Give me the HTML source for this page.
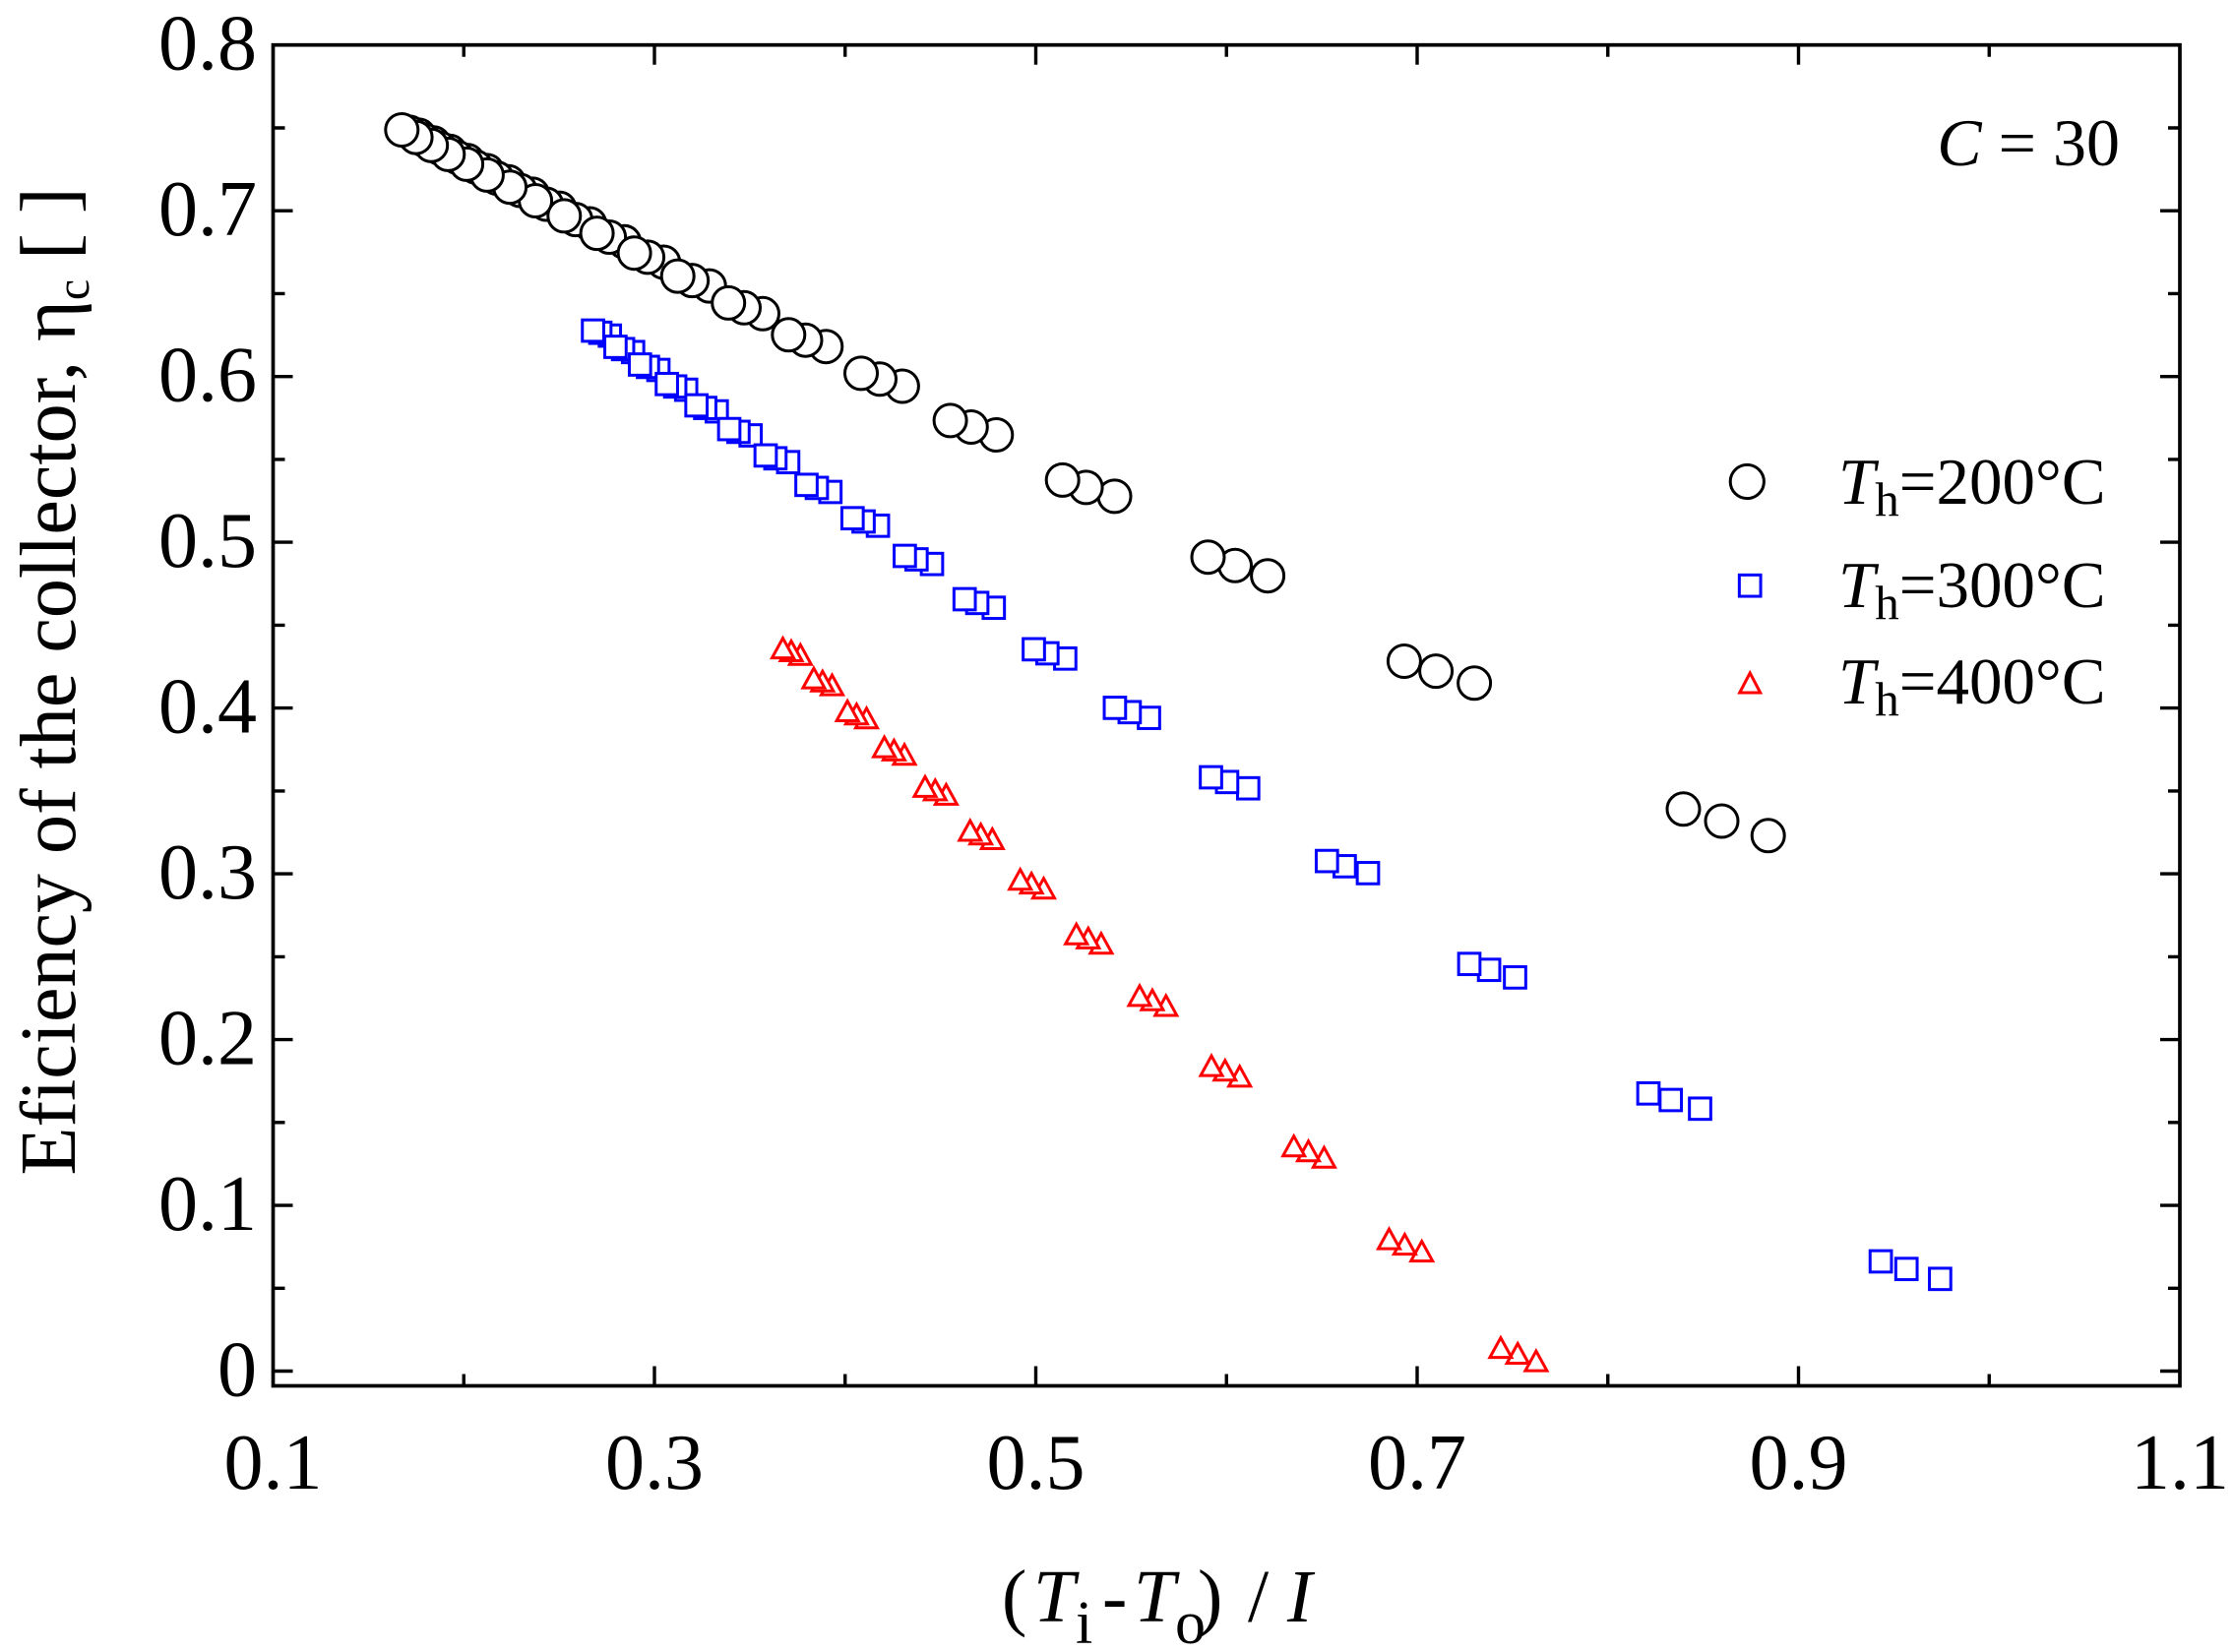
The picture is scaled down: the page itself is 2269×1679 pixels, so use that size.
<!DOCTYPE html>
<html>
<head>
<meta charset="utf-8">
<style>
html,body{margin:0;padding:0;background:#fff;}
svg{display:block;}
</style>
</head>
<body>
<svg width="2269" height="1679" viewBox="0 0 2269 1679" xmlns="http://www.w3.org/2000/svg" xmlns:xlink="http://www.w3.org/1999/xlink" font-family="'Liberation Serif', 'Times New Roman', serif">
<defs>
  <rect id="s" x="-10.85" y="-10.85" width="21.7" height="21.7"/>
  <polygon id="t" points="0,-11 -11,9 11,9"/>
</defs>
<rect x="0" y="0" width="2269" height="1679" fill="#fff"/>

<!-- frame -->
<rect x="277.5" y="45.7" width="1937.5" height="1362.8" fill="none" stroke="#000" stroke-width="3.7"/>

<!-- ticks -->
<path stroke="#000" stroke-width="3.4" fill="none" d="
M277.5 1393.5 h20 M277.5 1225.1 h20 M277.5 1056.6 h20 M277.5 888.1 h20 M277.5 719.6 h20 M277.5 551.1 h20 M277.5 382.7 h20 M277.5 214.2 h20
M277.5 1309.3 h12 M277.5 1140.8 h12 M277.5 972.4 h12 M277.5 803.9 h12 M277.5 635.4 h12 M277.5 466.9 h12 M277.5 298.4 h12 M277.5 130.0 h12
M2215 1393.5 h-20 M2215 1225.1 h-20 M2215 1056.6 h-20 M2215 888.1 h-20 M2215 719.6 h-20 M2215 551.1 h-20 M2215 382.7 h-20 M2215 214.2 h-20
M2215 1309.3 h-12 M2215 1140.8 h-12 M2215 972.4 h-12 M2215 803.9 h-12 M2215 635.4 h-12 M2215 466.9 h-12 M2215 298.4 h-12 M2215 130.0 h-12
M665 1408.5 v-20 M1052.5 1408.5 v-20 M1440 1408.5 v-20 M1827.5 1408.5 v-20
M471.25 1408.5 v-12 M858.75 1408.5 v-12 M1246.25 1408.5 v-12 M1633.75 1408.5 v-12 M2021.25 1408.5 v-12
M665 45.7 v20 M1052.5 45.7 v20 M1440 45.7 v20 M1827.5 45.7 v20
M471.25 45.7 v12 M858.75 45.7 v12 M1246.25 45.7 v12 M1633.75 45.7 v12 M2021.25 45.7 v12
"/>

<!-- y tick labels -->
<g font-size="80" text-anchor="end" fill="#000">
  <text x="261" y="1418.5">0</text>
  <text x="261" y="1250.1">0.1</text>
  <text x="261" y="1081.6">0.2</text>
  <text x="261" y="913.1">0.3</text>
  <text x="261" y="744.6">0.4</text>
  <text x="261" y="576.1">0.5</text>
  <text x="261" y="407.7">0.6</text>
  <text x="261" y="239.2">0.7</text>
  <text x="261" y="70.7">0.8</text>
</g>

<!-- x tick labels -->
<g font-size="80" text-anchor="middle" fill="#000">
  <text x="277.5" y="1513">0.1</text>
  <text x="665" y="1513">0.3</text>
  <text x="1052.5" y="1513">0.5</text>
  <text x="1440" y="1513">0.7</text>
  <text x="1827.5" y="1513">0.9</text>
  <text x="2215" y="1513">1.1</text>
</g>

<!-- x axis title -->
<g fill="#000">
  <text x="1018" y="1648" font-size="76">(</text>
  <text x="1050" y="1648" font-size="76" font-style="italic">T</text>
  <text x="1093" y="1670" font-size="62">i</text>
  <text x="1120" y="1648" font-size="76">-</text>
  <text x="1152" y="1648" font-size="76" font-style="italic">T</text>
  <text x="1194" y="1670" font-size="62">o</text>
  <text x="1217" y="1648" font-size="76">)</text>
  <text x="1268" y="1648" font-size="76">/</text>
  <text x="1308" y="1648" font-size="76" font-style="italic">I</text>
</g>

<!-- y axis title -->
<text transform="translate(76,692.5) rotate(-90)" text-anchor="middle" font-size="80" fill="#000">Eficiency of the collector, η<tspan font-size="48" dy="14">c</tspan><tspan dy="-14"> [ ]</tspan></text>

<!-- C = 30 -->
<text x="2154" y="168" font-size="68" text-anchor="end" fill="#000"><tspan font-style="italic">C</tspan> = 30</text>

<!-- legend -->
<circle cx="1775.3" cy="489.5" r="17.1" fill="#fff" stroke="#000" stroke-width="3"/>
<rect x="1767.35" y="584.35" width="21.7" height="21.7" fill="#fff" stroke="#0000ff" stroke-width="3"/>
<polygon points="1778.2,684 1767.7,704 1788.7,704" fill="#fff" stroke="#ff0000" stroke-width="3"/>
<g font-size="67" fill="#000">
  <text x="1868" y="512"><tspan font-style="italic">T</tspan><tspan font-size="49" dy="12">h</tspan><tspan dy="-12">=200°C</tspan></text>
  <text x="1868" y="617"><tspan font-style="italic">T</tspan><tspan font-size="49" dy="12">h</tspan><tspan dy="-12">=300°C</tspan></text>
  <text x="1868" y="715"><tspan font-style="italic">T</tspan><tspan font-size="49" dy="12">h</tspan><tspan dy="-12">=400°C</tspan></text>
</g>

<!-- circles (T=200) -->
<g fill="#fff" stroke="#000" stroke-width="3">
  <circle cx="1796.7" cy="849.3" r="16.5"/><circle cx="1498.1" cy="694.3" r="16.5"/><circle cx="1288.1" cy="585.2" r="16.5"/><circle cx="1132.5" cy="504.4" r="16.5"/><circle cx="1012.3" cy="442.0" r="16.5"/><circle cx="916.9" cy="392.5" r="16.5"/><circle cx="839.3" cy="352.2" r="16.5"/><circle cx="775.0" cy="318.8" r="16.5"/><circle cx="720.8" cy="290.6" r="16.5"/><circle cx="674.3" cy="266.5" r="16.5"/><circle cx="634.3" cy="245.8" r="16.5"/><circle cx="599.2" cy="227.5" r="16.5"/><circle cx="568.5" cy="211.6" r="16.5"/><circle cx="541.1" cy="197.4" r="16.5"/><circle cx="516.7" cy="184.7" r="16.5"/><circle cx="494.8" cy="173.4" r="16.5"/><circle cx="475.0" cy="163.1" r="16.5"/><circle cx="457.0" cy="153.7" r="16.5"/><circle cx="440.6" cy="145.2" r="16.5"/><circle cx="425.5" cy="137.4" r="16.5"/>
  <circle cx="1749.5" cy="834.5" r="16.5"/><circle cx="1459.1" cy="682.1" r="16.5"/><circle cx="1255.0" cy="574.8" r="16.5"/><circle cx="1103.6" cy="495.4" r="16.5"/><circle cx="986.8" cy="434.0" r="16.5"/><circle cx="894.0" cy="385.3" r="16.5"/><circle cx="818.5" cy="345.7" r="16.5"/><circle cx="756.0" cy="312.8" r="16.5"/><circle cx="703.2" cy="285.1" r="16.5"/><circle cx="658.1" cy="261.4" r="16.5"/><circle cx="619.1" cy="241.0" r="16.5"/><circle cx="585.0" cy="223.1" r="16.5"/><circle cx="555.1" cy="207.5" r="16.5"/><circle cx="528.5" cy="193.5" r="16.5"/><circle cx="504.8" cy="181.0" r="16.5"/><circle cx="483.5" cy="169.8" r="16.5"/><circle cx="464.2" cy="159.7" r="16.5"/><circle cx="446.7" cy="150.5" r="16.5"/><circle cx="430.7" cy="142.1" r="16.5"/><circle cx="416.1" cy="134.4" r="16.5"/>
  <circle cx="1710.5" cy="822.3" r="16.5"/><circle cx="1426.9" cy="672.0" r="16.5"/><circle cx="1227.5" cy="566.2" r="16.5"/><circle cx="1079.7" cy="487.9" r="16.5"/><circle cx="965.6" cy="427.4" r="16.5"/><circle cx="875.0" cy="379.4" r="16.5"/><circle cx="801.3" cy="340.3" r="16.5"/><circle cx="740.2" cy="307.9" r="16.5"/><circle cx="688.7" cy="280.6" r="16.5"/><circle cx="644.6" cy="257.2" r="16.5"/><circle cx="606.6" cy="237.1" r="16.5"/><circle cx="573.3" cy="219.4" r="16.5"/><circle cx="544.1" cy="204.0" r="16.5"/><circle cx="518.1" cy="190.2" r="16.5"/><circle cx="494.9" cy="177.9" r="16.5"/><circle cx="474.1" cy="166.9" r="16.5"/><circle cx="455.3" cy="156.9" r="16.5"/><circle cx="438.2" cy="147.8" r="16.5"/><circle cx="422.6" cy="139.6" r="16.5"/><circle cx="408.3" cy="132.0" r="16.5"/>
</g>

<!-- squares (T=300) -->
<g fill="#fff" stroke="#0000ff" stroke-width="3">
  <use href="#s" x="1971.4" y="1299.8"/><use href="#s" x="1727.5" y="1126.8"/><use href="#s" x="1539.5" y="993.4"/><use href="#s" x="1390.0" y="887.4"/><use href="#s" x="1268.3" y="801.2"/><use href="#s" x="1167.5" y="729.6"/><use href="#s" x="1082.4" y="669.3"/><use href="#s" x="1009.8" y="617.7"/><use href="#s" x="947.0" y="573.2"/><use href="#s" x="892.1" y="534.3"/><use href="#s" x="843.8" y="500.0"/><use href="#s" x="800.9" y="469.7"/><use href="#s" x="762.7" y="442.5"/><use href="#s" x="728.3" y="418.1"/><use href="#s" x="697.2" y="396.1"/><use href="#s" x="669.0" y="376.0"/><use href="#s" x="643.3" y="357.8"/><use href="#s" x="619.7" y="341.1"/>
  <use href="#s" x="1937.2" y="1289.7"/><use href="#s" x="1697.7" y="1118.0"/><use href="#s" x="1513.1" y="985.7"/><use href="#s" x="1366.4" y="880.4"/><use href="#s" x="1246.9" y="794.8"/><use href="#s" x="1147.9" y="723.8"/><use href="#s" x="1064.3" y="664.0"/><use href="#s" x="993.0" y="612.8"/><use href="#s" x="931.3" y="568.5"/><use href="#s" x="877.5" y="530.0"/><use href="#s" x="830.0" y="495.9"/><use href="#s" x="787.9" y="465.8"/><use href="#s" x="750.4" y="438.9"/><use href="#s" x="716.6" y="414.6"/><use href="#s" x="686.1" y="392.8"/><use href="#s" x="658.4" y="372.9"/><use href="#s" x="633.1" y="354.8"/><use href="#s" x="610.0" y="338.2"/>
  <use href="#s" x="1911.1" y="1282.0"/><use href="#s" x="1675.0" y="1111.3"/><use href="#s" x="1493.0" y="979.7"/><use href="#s" x="1348.3" y="875.1"/><use href="#s" x="1230.5" y="790.0"/><use href="#s" x="1132.9" y="719.4"/><use href="#s" x="1050.5" y="659.9"/><use href="#s" x="980.2" y="609.0"/><use href="#s" x="919.4" y="565.0"/><use href="#s" x="866.3" y="526.7"/><use href="#s" x="819.5" y="492.8"/><use href="#s" x="778.0" y="462.9"/><use href="#s" x="741.0" y="436.1"/><use href="#s" x="707.7" y="412.0"/><use href="#s" x="677.6" y="390.3"/><use href="#s" x="650.3" y="370.5"/><use href="#s" x="625.4" y="352.5"/><use href="#s" x="602.6" y="336.0"/>
</g>

<!-- triangles (T=400) -->
<g fill="#fff" stroke="#ff0000" stroke-width="3">
  <use href="#t" x="1560.9" y="1384.1"/><use href="#t" x="1444.7" y="1272.6"/><use href="#t" x="1345.4" y="1177.3"/><use href="#t" x="1259.7" y="1094.9"/><use href="#t" x="1184.8" y="1023.0"/><use href="#t" x="1118.9" y="959.8"/><use href="#t" x="1060.5" y="903.7"/><use href="#t" x="1008.3" y="853.5"/><use href="#t" x="961.4" y="808.4"/><use href="#t" x="919.0" y="767.8"/><use href="#t" x="880.5" y="730.8"/><use href="#t" x="845.5" y="697.1"/><use href="#t" x="813.3" y="666.3"/>
  <use href="#t" x="1542.2" y="1376.5"/><use href="#t" x="1427.4" y="1265.6"/><use href="#t" x="1329.5" y="1170.8"/><use href="#t" x="1244.8" y="1088.8"/><use href="#t" x="1170.9" y="1017.3"/><use href="#t" x="1105.8" y="954.4"/><use href="#t" x="1048.1" y="898.6"/><use href="#t" x="996.6" y="848.7"/><use href="#t" x="950.3" y="803.9"/><use href="#t" x="908.4" y="763.4"/><use href="#t" x="870.4" y="726.7"/><use href="#t" x="835.8" y="693.2"/><use href="#t" x="804.0" y="662.5"/>
  <use href="#t" x="1524.9" y="1370.6"/><use href="#t" x="1411.5" y="1260.1"/><use href="#t" x="1314.7" y="1165.7"/><use href="#t" x="1231.0" y="1084.1"/><use href="#t" x="1158.0" y="1012.9"/><use href="#t" x="1093.7" y="950.3"/><use href="#t" x="1036.7" y="894.7"/><use href="#t" x="985.8" y="845.0"/><use href="#t" x="940.0" y="800.4"/><use href="#t" x="898.6" y="760.1"/><use href="#t" x="861.1" y="723.5"/><use href="#t" x="826.9" y="690.1"/><use href="#t" x="795.5" y="659.6"/>
</g>
</svg>
</body>
</html>
